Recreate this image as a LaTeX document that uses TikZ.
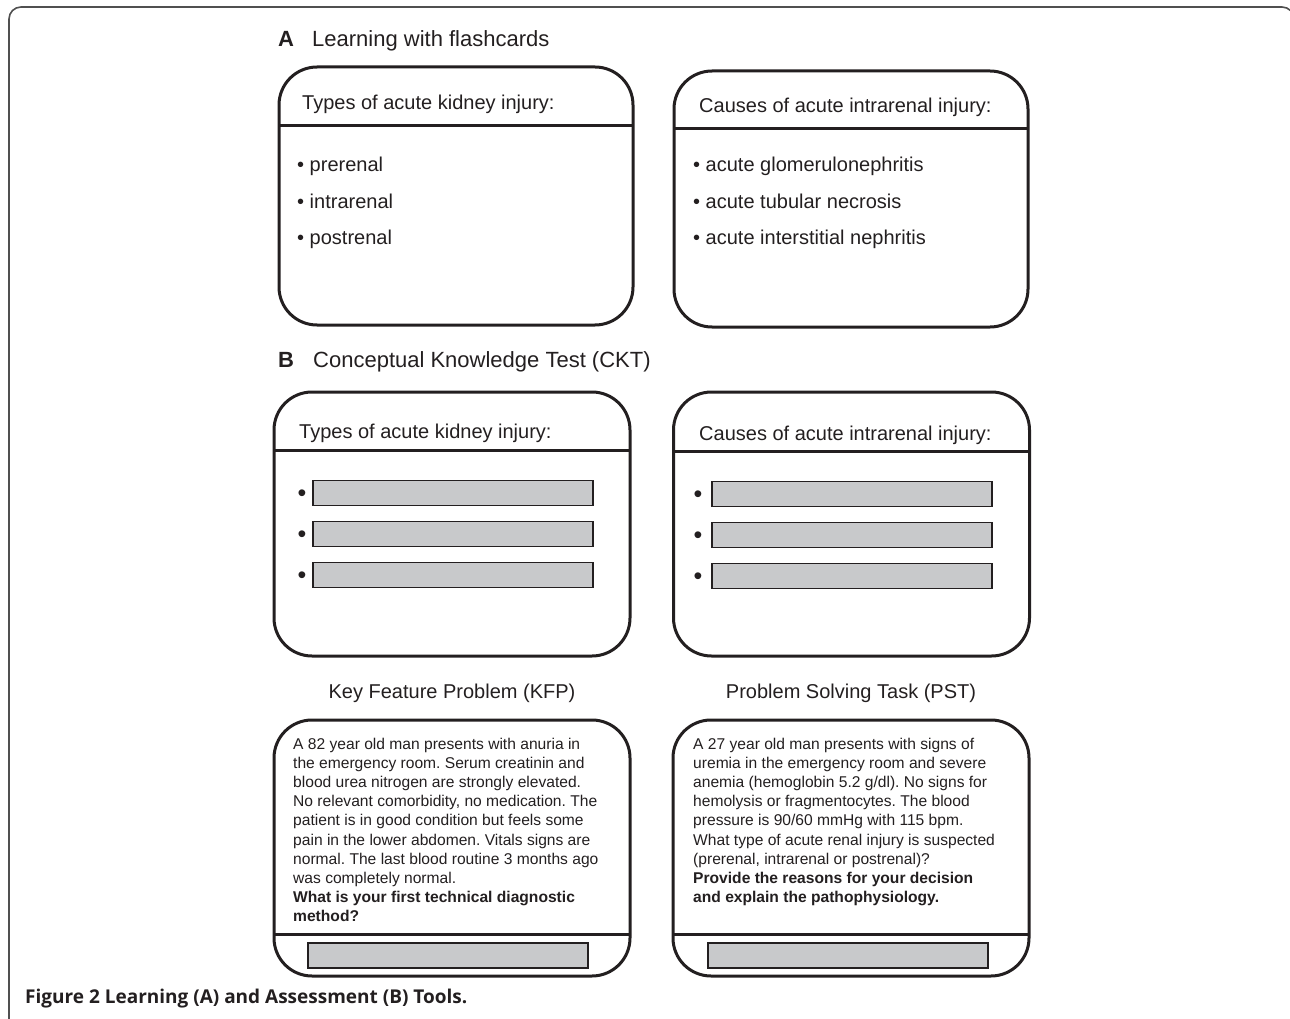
\documentclass[tikz,border=0pt]{standalone}
\usepackage{fontspec}
\setmainfont{Liberation Sans}
\newfontfamily\capfont{Open Sans}
\usetikzlibrary{positioning}
\definecolor{ink}{HTML}{231F20}
\definecolor{blankgray}{HTML}{C8C9CB}
\definecolor{framegray}{HTML}{505050}
\tikzstyle{card} = [rectangle, rounded corners=38pt, draw=ink, line width=3pt, inner sep=0pt, outer sep=0pt]
\tikzstyle{blank} = [rectangle, draw=ink, line width=1.2pt, fill=blankgray, minimum width=280pt, minimum height=25pt, inner sep=0pt]
\tikzstyle{divider} = [draw=ink, line width=3pt]
\tikzstyle{heading} = [font=\fontsize{22}{26}\selectfont, text=ink, inner sep=0pt, anchor=base west]
\tikzstyle{cardtitle} = [font=\fontsize{20}{24}\selectfont, text=ink, inner sep=0pt, anchor=base west]
\tikzstyle{dot} = [font=\fontsize{25}{28}\selectfont, text=ink, inner sep=0pt, yshift=-3pt]
\tikzstyle{case} = [font=\fontsize{15.6}{19.1}\selectfont, text=ink, inner sep=0pt, align=left, anchor=north west]

\begin{document}
\frenchspacing
\begin{tikzpicture}[x=1pt, y=-1pt, node distance=395pt]
        \useasboundingbox (0,0) rectangle (1290,1019);
        \draw [framegray, line width=1.6pt, rounded corners=12pt] (9,1019) -- (9,7) -- (1294,7) -- (1294,1019);

        % A: flashcards
        \node (labA) [heading, font=\bfseries\fontsize{22}{26}\selectfont] at (278,47) {A};
        \node (headA) [heading] at (312,47) {Learning with flashcards};
        \node (cardAL) [card, minimum width=354pt, minimum height=258pt] at (456,196) {};
        \node (cardAR) [card, minimum width=354pt, minimum height=256pt, right of=cardAL, yshift=-3pt] {};
        \draw [divider] (cardAL.west |- 0,126) -- (cardAL.east |- 0,126);
        \draw [divider] (cardAR.west |- 0,129) -- (cardAR.east |- 0,129);
        \node (titleAL) [cardtitle] at (302,110) {Types of acute kidney injury:};
        \node (titleAR) [cardtitle] at (699,113) {Causes of acute intrarenal injury:};
        \node (itemAL1) [cardtitle] at (297,172) {• prerenal};
        \node (itemAL2) [cardtitle] at (297,208) {• intrarenal};
        \node (itemAL3) [cardtitle] at (297,244) {• postrenal};
        \node (itemAR1) [cardtitle] at (693,172) {• acute glomerulonephritis};
        \node (itemAR2) [cardtitle] at (693,208) {• acute tubular necrosis};
        \node (itemAR3) [cardtitle] at (693,244) {• acute interstitial nephritis};

        % B: assessment
        \node (labB) [heading, font=\bfseries\fontsize{22}{26}\selectfont] at (278,367) {B};
        \node (headB) [heading] at (313,367) {Conceptual Knowledge Test (CKT)};
        \node (cardBL) [card, minimum width=356pt, minimum height=264pt] at (452,524) {};
        \node (cardBR) [card, minimum width=356pt, minimum height=264pt, right of=cardBL, xshift=4.5pt] {};
        \draw [divider] (cardBL.west |- 0,450) -- (cardBL.east |- 0,450);
        \draw [divider] (cardBR.west |- 0,451) -- (cardBR.east |- 0,451);
        \node (titleBL) [cardtitle] at (299,438) {Types of acute kidney injury:};
        \node (titleBR) [cardtitle] at (699,440) {Causes of acute intrarenal injury:};
        \node (blankBL1) [blank] at (453,493) {};
        \node (blankBL2) [blank] at (453,534) {};
        \node (blankBL3) [blank] at (453,575) {};
        \node (blankBR1) [blank] at (852,494) {};
        \node (blankBR2) [blank] at (852,535) {};
        \node (blankBR3) [blank] at (852,576) {};
        \node (dotBL1) [dot] at (302,493) {•};
        \node (dotBL2) [dot] at (302,534) {•};
        \node (dotBL3) [dot] at (302,575) {•};
        \node (dotBR1) [dot] at (698,494) {•};
        \node (dotBR2) [dot] at (698,535) {•};
        \node (dotBR3) [dot] at (698,576) {•};

        % KFP and PST
        \node (headKFP) [cardtitle, anchor=base] at (452,698) {Key Feature Problem (KFP)};
        \node (headPST) [cardtitle, anchor=base] at (851,698) {Problem Solving Task (PST)};
        \node (cardKFP) [card, minimum width=356pt, minimum height=256pt] at (452,848) {};
        \node (cardPST) [card, minimum width=356pt, minimum height=256pt, right of=cardKFP, xshift=4pt] {};
        \draw [divider] (cardKFP.west |- 0,934) -- (cardKFP.east |- 0,934);
        \draw [divider] (cardPST.west |- 0,934) -- (cardPST.east |- 0,934);
        \node (caseKFP) [case] at (293,738) {A 82 year old man presents with anuria in\\
            the emergency room. Serum creatinin and\\
            blood urea nitrogen are strongly elevated.\\
            No relevant comorbidity, no medication. The\\
            patient is in good condition but feels some\\
            pain in the lower abdomen. Vitals signs are\\
            normal. The last blood routine 3 months ago\\
            was completely normal.\\
            \textbf{What is your first technical diagnostic}\\
            \textbf{method?}};
        \node (casePST) [case] at (693,738) {A 27 year old man presents with signs of\\
            uremia in the emergency room and severe\\
            anemia (hemoglobin 5.2 g/dl). No signs for\\
            hemolysis or fragmentocytes. The blood\\
            pressure is 90/60 mmHg with 115 bpm.\\
            What type of acute renal injury is suspected\\
            (prerenal, intrarenal or postrenal)?\\
            \textbf{Provide the reasons for your decision}\\
            \textbf{and explain the pathophysiology.}};
        \node (blankKFP) [blank] at (448,955.5) {};
        \node (blankPST) [blank] at (848,955.5) {};

        \node (caption) [anchor=base west, inner sep=0pt, text=ink, font=\capfont\bfseries\fontsize{19}{22}\selectfont] at (25,1003) {Figure 2 Learning (A) and Assessment (B) Tools.};
\end{tikzpicture}
\end{document}
